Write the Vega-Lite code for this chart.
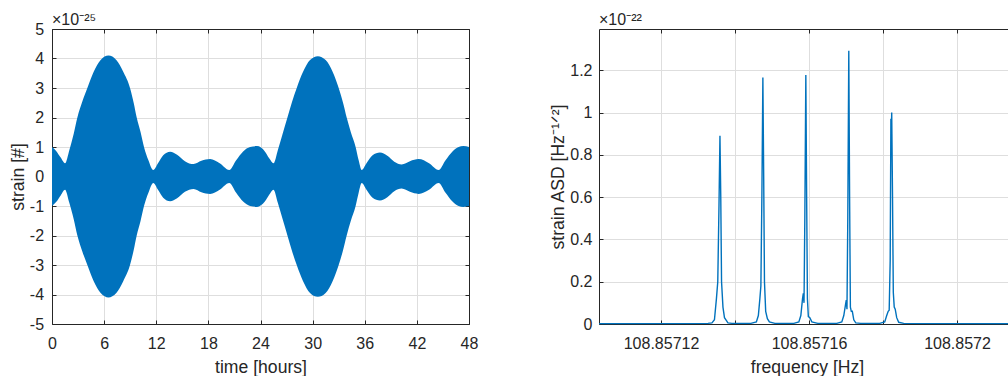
{
  "$schema": "https://vega.github.io/schema/vega-lite/v6.json",
  "padding": {"left": 9, "top": 11, "right": 0, "bottom": 0},
  "autosize": {"type": "pad"},
  "bounds": "flush",
  "spacing": 130,
  "config": {
    "font": "Liberation Sans",
    "view": {"stroke": null},
    "axis": {
      "labelFont": "Liberation Sans", "labelFontSize": 16, "labelColor": "#262626",
      "titleFont": "Liberation Sans", "titleFontSize": 17.6, "titleFontWeight": "normal", "titleColor": "#262626",
      "domainColor": "#262626", "domainWidth": 1, "tickColor": "#262626", "tickSize": -4, "tickWidth": 1,
      "gridColor": "#dedede", "gridWidth": 1, "labelFlush": false, "labelOverlap": false
    },
    "title": {"font": "Liberation Sans", "fontSize": 16, "fontWeight": "normal", "color": "#262626", "anchor": "start", "frame": "group"}
  },
  "hconcat": [
    {
      "width": 417, "height": 295,
      "title": {"text": "×10⁻²⁵", "baseline": "alphabetic", "offset": -20},
      "data": {"values": [
        {"t": 0, "upper": 1.0, "lower": -1.0},
        {"t": 0.5, "upper": 0.86, "lower": -0.86},
        {"t": 1.0, "upper": 0.64, "lower": -0.64},
        {"t": 1.5, "upper": 0.45, "lower": -0.45},
        {"t": 2.0, "upper": 0.9, "lower": -0.9},
        {"t": 2.5, "upper": 1.45, "lower": -1.45},
        {"t": 2.92, "upper": 2.0, "lower": -2.0},
        {"t": 3.5, "upper": 2.55, "lower": -2.55},
        {"t": 4.07, "upper": 3.0, "lower": -3.0},
        {"t": 4.8, "upper": 3.55, "lower": -3.55},
        {"t": 5.6, "upper": 3.95, "lower": -3.95},
        {"t": 6.5, "upper": 4.1, "lower": -4.1},
        {"t": 7.4, "upper": 3.95, "lower": -3.95},
        {"t": 8.2, "upper": 3.55, "lower": -3.55},
        {"t": 8.98, "upper": 3.0, "lower": -3.0},
        {"t": 9.4, "upper": 2.5, "lower": -2.5},
        {"t": 9.75, "upper": 2.0, "lower": -2.0},
        {"t": 10.2, "upper": 1.5, "lower": -1.5},
        {"t": 10.59, "upper": 1.0, "lower": -1.0},
        {"t": 11.1, "upper": 0.55, "lower": -0.55},
        {"t": 11.66, "upper": 0.22, "lower": -0.22},
        {"t": 12.2, "upper": 0.45, "lower": -0.45},
        {"t": 12.8, "upper": 0.72, "lower": -0.72},
        {"t": 13.6, "upper": 0.84, "lower": -0.84},
        {"t": 14.4, "upper": 0.74, "lower": -0.74},
        {"t": 15.3, "upper": 0.52, "lower": -0.52},
        {"t": 16.3, "upper": 0.42, "lower": -0.42},
        {"t": 17.2, "upper": 0.53, "lower": -0.53},
        {"t": 18.2, "upper": 0.59, "lower": -0.59},
        {"t": 19.3, "upper": 0.45, "lower": -0.45},
        {"t": 20.4, "upper": 0.22, "lower": -0.22},
        {"t": 21.2, "upper": 0.55, "lower": -0.55},
        {"t": 22.0, "upper": 0.85, "lower": -0.85},
        {"t": 22.8, "upper": 1.0, "lower": -1.0},
        {"t": 23.6, "upper": 1.03, "lower": -1.03},
        {"t": 24.5, "upper": 0.85, "lower": -0.85},
        {"t": 25.0, "upper": 0.62, "lower": -0.62},
        {"t": 25.5, "upper": 0.45, "lower": -0.45},
        {"t": 26.0, "upper": 0.9, "lower": -0.9},
        {"t": 26.5, "upper": 1.4, "lower": -1.4},
        {"t": 27.1, "upper": 2.0, "lower": -2.0},
        {"t": 27.6, "upper": 2.5, "lower": -2.5},
        {"t": 28.17, "upper": 3.0, "lower": -3.0},
        {"t": 28.9, "upper": 3.55, "lower": -3.55},
        {"t": 29.7, "upper": 3.95, "lower": -3.95},
        {"t": 30.6, "upper": 4.08, "lower": -4.08},
        {"t": 31.5, "upper": 3.95, "lower": -3.95},
        {"t": 32.3, "upper": 3.55, "lower": -3.55},
        {"t": 33.0, "upper": 3.0, "lower": -3.0},
        {"t": 33.5, "upper": 2.5, "lower": -2.5},
        {"t": 33.92, "upper": 2.0, "lower": -2.0},
        {"t": 34.4, "upper": 1.5, "lower": -1.5},
        {"t": 34.95, "upper": 1.0, "lower": -1.0},
        {"t": 35.3, "upper": 0.55, "lower": -0.55},
        {"t": 35.65, "upper": 0.22, "lower": -0.22},
        {"t": 36.2, "upper": 0.45, "lower": -0.45},
        {"t": 36.9, "upper": 0.72, "lower": -0.72},
        {"t": 37.75, "upper": 0.81, "lower": -0.81},
        {"t": 38.6, "upper": 0.7, "lower": -0.7},
        {"t": 39.4, "upper": 0.5, "lower": -0.5},
        {"t": 40.25, "upper": 0.41, "lower": -0.41},
        {"t": 41.2, "upper": 0.52, "lower": -0.52},
        {"t": 42.2, "upper": 0.59, "lower": -0.59},
        {"t": 43.4, "upper": 0.45, "lower": -0.45},
        {"t": 44.5, "upper": 0.22, "lower": -0.22},
        {"t": 45.3, "upper": 0.55, "lower": -0.55},
        {"t": 46.1, "upper": 0.85, "lower": -0.85},
        {"t": 46.8, "upper": 1.0, "lower": -1.0},
        {"t": 47.35, "upper": 1.03, "lower": -1.03},
        {"t": 48, "upper": 1.0, "lower": -1.0}
      ]},
      "layer": [
        {
          "mark": {"type": "area", "color": "#0072BD", "interpolate": "monotone"},
          "encoding": {
            "x": {"field": "t", "type": "quantitative",
                  "scale": {"domain": [0, 48], "nice": false, "zero": false},
                  "axis": {"orient": "bottom", "values": [0, 6, 12, 18, 24, 30, 36, 42, 48], "title": "time [hours]", "grid": true,
                           "labelPadding": 28.3, "labelBaseline": "alphabetic", "labelExpr": "'' + datum.value",
                           "minExtent": 30, "maxExtent": 30, "titlePadding": 18, "titleBaseline": "alphabetic"}},
            "y": {"field": "upper", "type": "quantitative",
                  "scale": {"domain": [-5, 5], "nice": false, "zero": false},
                  "axis": {"orient": "left", "values": [-5, -4, -3, -2, -1, 0, 1, 2, 3, 4, 5], "title": "strain [#]", "grid": true,
                           "labelPadding": 12.4, "labelExpr": "'' + datum.value",
                           "minExtent": 20, "maxExtent": 20, "titlePadding": 8.4, "titleBaseline": "alphabetic"}},
            "y2": {"field": "lower"}
          }
        },
        {
          "mark": {"type": "point", "opacity": 0},
          "encoding": {
            "x": {"field": "t", "type": "quantitative",
                  "axis": {"orient": "top", "values": [0, 6, 12, 18, 24, 30, 36, 42, 48], "labels": false, "grid": false, "title": null}},
            "y": {"field": "upper", "type": "quantitative",
                  "axis": {"orient": "right", "values": [-5, -4, -3, -2, -1, 0, 1, 2, 3, 4, 5], "labels": false, "grid": false, "title": null}}
          }
        }
      ],
      "resolve": {"axis": {"x": "independent", "y": "independent"}}
    },
    {
      "width": 409, "height": 295,
      "title": {"text": "×10⁻²²", "baseline": "alphabetic", "offset": -12},
      "data": {"values": [
        {"f": 108.85710324, "asd": 0.002},
        {"f": 108.85713269, "asd": 0.003},
        {"f": 108.85713377, "asd": 0.005},
        {"f": 108.85713444, "asd": 0.02},
        {"f": 108.85713498, "asd": 0.12},
        {"f": 108.85713534, "asd": 0.2},
        {"f": 108.85713566, "asd": 0.55},
        {"f": 108.85713593, "asd": 0.89},
        {"f": 108.85713615, "asd": 0.6},
        {"f": 108.85713636, "asd": 0.2},
        {"f": 108.85713674, "asd": 0.08},
        {"f": 108.85713715, "asd": 0.03},
        {"f": 108.85713755, "asd": 0.02},
        {"f": 108.85713809, "asd": 0.005},
        {"f": 108.85713917, "asd": 0.003},
        {"f": 108.85714429, "asd": 0.003},
        {"f": 108.85714577, "asd": 0.01},
        {"f": 108.85714631, "asd": 0.04},
        {"f": 108.85714672, "asd": 0.12},
        {"f": 108.85714699, "asd": 0.18},
        {"f": 108.85714726, "asd": 0.6},
        {"f": 108.85714753, "asd": 1.166},
        {"f": 108.85714775, "asd": 0.7},
        {"f": 108.85714796, "asd": 0.2},
        {"f": 108.85714829, "asd": 0.06},
        {"f": 108.85714875, "asd": 0.025},
        {"f": 108.85714929, "asd": 0.01},
        {"f": 108.85715077, "asd": 0.003},
        {"f": 108.8571559, "asd": 0.003},
        {"f": 108.85715725, "asd": 0.01},
        {"f": 108.85715779, "asd": 0.04},
        {"f": 108.85715825, "asd": 0.12},
        {"f": 108.85715846, "asd": 0.145},
        {"f": 108.85715865, "asd": 0.1},
        {"f": 108.85715887, "asd": 0.5},
        {"f": 108.85715914, "asd": 1.177},
        {"f": 108.85715936, "asd": 0.6},
        {"f": 108.85715957, "asd": 0.12},
        {"f": 108.85715982, "asd": 0.035},
        {"f": 108.85716022, "asd": 0.03},
        {"f": 108.85716076, "asd": 0.01},
        {"f": 108.85716238, "asd": 0.003},
        {"f": 108.85716751, "asd": 0.003},
        {"f": 108.85716886, "asd": 0.01},
        {"f": 108.8571694, "asd": 0.04},
        {"f": 108.85716994, "asd": 0.1},
        {"f": 108.85717007, "asd": 0.113},
        {"f": 108.85717026, "asd": 0.07},
        {"f": 108.85717048, "asd": 0.5},
        {"f": 108.85717075, "asd": 1.292},
        {"f": 108.85717097, "asd": 0.6},
        {"f": 108.85717118, "asd": 0.08},
        {"f": 108.85717143, "asd": 0.06},
        {"f": 108.8571717, "asd": 0.06},
        {"f": 108.8571721, "asd": 0.02},
        {"f": 108.85717264, "asd": 0.005},
        {"f": 108.85717399, "asd": 0.003},
        {"f": 108.85717911, "asd": 0.003},
        {"f": 108.85718046, "asd": 0.01},
        {"f": 108.857181, "asd": 0.04},
        {"f": 108.8571814, "asd": 0.06},
        {"f": 108.85718167, "asd": 0.065},
        {"f": 108.85718194, "asd": 0.3},
        {"f": 108.85718213, "asd": 0.97},
        {"f": 108.85718224, "asd": 0.9},
        {"f": 108.85718235, "asd": 1.0},
        {"f": 108.85718257, "asd": 0.6},
        {"f": 108.85718278, "asd": 0.15},
        {"f": 108.85718303, "asd": 0.08},
        {"f": 108.8571833, "asd": 0.07},
        {"f": 108.8571837, "asd": 0.03},
        {"f": 108.85718424, "asd": 0.008},
        {"f": 108.85718559, "asd": 0.003},
        {"f": 108.85721378, "asd": 0.002}
      ]},
      "layer": [
        {
          "mark": {"type": "line", "color": "#0072BD", "strokeWidth": 1.4, "interpolate": "linear"},
          "encoding": {
            "x": {"field": "f", "type": "quantitative",
                  "scale": {"domain": [108.85710324, 108.85721378], "nice": false, "zero": false},
                  "axis": {"orient": "bottom", "values": [108.85712, 108.85714, 108.85716, 108.85718, 108.8572],
                           "labelExpr": "round(datum.value * 100000) % 4 == 0 ? format(datum.value, '.5~f') : ''",
                           "title": "frequency [Hz]", "titleX": 208, "grid": true,
                           "labelPadding": 28.3, "labelBaseline": "alphabetic",
                           "minExtent": 30, "maxExtent": 30, "titlePadding": 18, "titleBaseline": "alphabetic"}},
            "y": {"field": "asd", "type": "quantitative",
                  "scale": {"domain": [0, 1.395], "nice": false, "zero": false},
                  "axis": {"orient": "left", "values": [0, 0.2, 0.4, 0.6, 0.8, 1, 1.2], "title": "strain ASD [Hz⁻¹ᐟ²]", "grid": true,
                           "labelPadding": 11, "labelExpr": "'' + datum.value",
                           "minExtent": 26, "maxExtent": 26, "titlePadding": 10, "titleBaseline": "alphabetic"}}
          }
        },
        {
          "mark": {"type": "point", "opacity": 0},
          "encoding": {
            "x": {"field": "f", "type": "quantitative",
                  "axis": {"orient": "top", "values": [108.85712, 108.85714, 108.85716, 108.85718, 108.8572], "labels": false, "grid": false, "title": null}},
            "y": {"field": "asd", "type": "quantitative"}
          }
        }
      ],
      "resolve": {"axis": {"x": "independent"}}
    }
  ]
}
